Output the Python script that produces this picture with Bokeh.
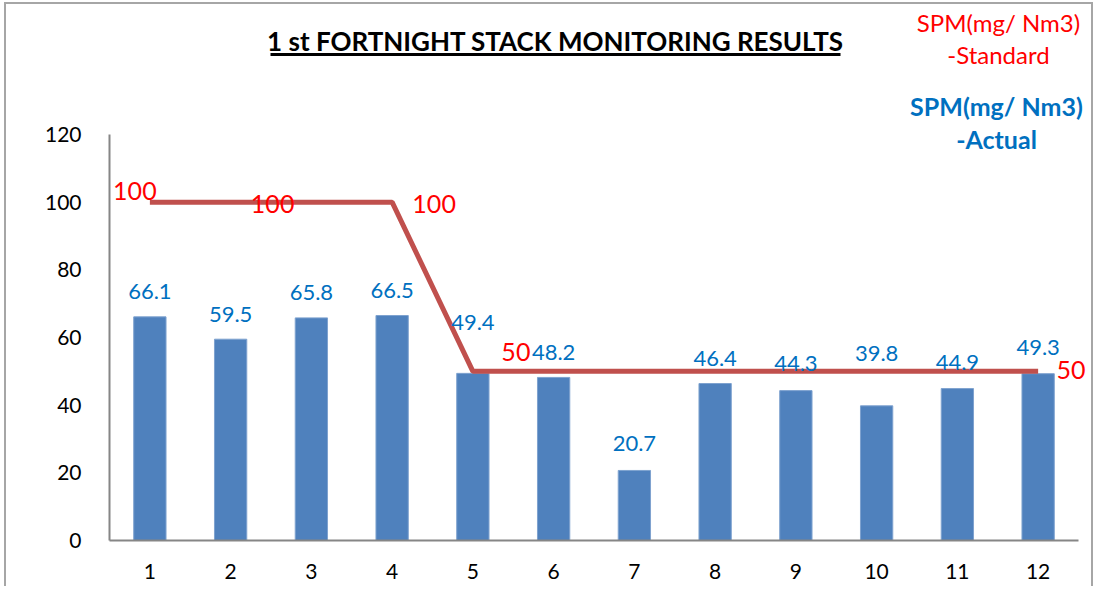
from bokeh.plotting import figure
from bokeh.models import ColumnDataSource, FixedTicker, Range1d
from bokeh.core.properties import value
from bokeh.embed import file_html
from bokeh.resources import INLINE

# ---- data ----
points = [1, 2, 3, 4, 5, 6, 7, 8, 9, 10, 11, 12]
actual = [66.1, 59.5, 65.8, 66.5, 49.4, 48.2, 20.7, 46.4, 44.3, 39.8, 44.9, 49.3]
standard = [100, 100, 100, 100, 50, 50, 50, 50, 50, 50, 50, 50]
y_ticks = [0, 20, 40, 60, 80, 100, 120]
title_text = "1 st FORTNIGHT STACK MONITORING RESULTS"
std_name = ["SPM(mg/ Nm3)", "-Standard"]
act_name = ["SPM(mg/ Nm3)", "-Actual"]
# label placement (style): pixel offsets of the value labels
actual_label_dy = [-25, -25, -25, -25, -51, -25, -27, -25, -27, -52, -26, -26]
std_label_idx = [0, 1, 3, 4, 11]
std_label_dx = [-15, 42, 42, 43, 33]
std_label_dy = [-11, 2, 2, -19, -1]

FONT = "Lato"
BLUE = "#4F81BD"
LBLUE = "#0070C0"
RED_LINE = "#C0504D"
RED = "#FF0000"

CANVAS_X, CANVAS_Y = 6, 4          # where the canvas starts on the page
FRAME_LEFT_PX, FRAME_BOTTOM_PX = 109, 540
W = 1089
LEFT = FRAME_LEFT_PX - CANVAS_X
BOTTOM = 48
H = FRAME_BOTTOM_PX - CANVAS_Y + BOTTOM
frame_w = W - LEFT
frame_h = H - BOTTOM
px_per_x = 80.75
px_per_y = 406 / 120.0
x0 = 0.5
x1 = x0 + frame_w / px_per_x
y1 = frame_h / px_per_y

p = figure(width=W, height=H, output_backend="svg", toolbar_location=None,
           x_range=Range1d(x0, x1), y_range=Range1d(0, y1),
           min_border_left=LEFT, min_border_bottom=BOTTOM, min_border_right=0,
           min_border_top=0)
p.styles = {"margin-left": "4px", "margin-top": "2px",
            "border-left": "2px solid #A6A6A6", "border-top": "2px solid #A6A6A6",
            "border-right": "2px solid #A6A6A6"}
p.outline_line_color = None
p.grid.visible = False
p.background_fill_color = "white"
p.border_fill_color = "white"

src = ColumnDataSource(dict(x=points, actual=actual, standard=standard,
                            alab=[f"{v:.1f}" for v in actual],
                            ady=actual_label_dy))
p.vbar(x="x", top="actual", width=0.4, bottom=0, source=src,
       fill_color=BLUE, line_color="#7EA2CF", line_width=1)
p.line(x="x", y="standard", source=src, line_color=RED_LINE, line_width=5)

p.text(x="x", y="actual", text="alab", source=src, text_color=LBLUE,
       text_font=value(FONT), text_font_size="22px", text_align="center",
       text_baseline="middle", y_offset="ady")

lsrc = ColumnDataSource(dict(
    x=[points[i] for i in std_label_idx],
    y=[standard[i] for i in std_label_idx],
    t=[str(standard[i]) for i in std_label_idx],
    dx=std_label_dx, dy=std_label_dy))
p.text(x="x", y="y", text="t", x_offset="dx", y_offset="dy", source=lsrc,
       text_color=RED, text_font=value(FONT), text_font_size="25px",
       text_align="center", text_baseline="middle")

# axes
p.xaxis.ticker = FixedTicker(ticks=points)
p.yaxis.ticker = FixedTicker(ticks=y_ticks)
p.xaxis.bounds = (0.5, 12.5)
p.yaxis.bounds = (0, 120)
for ax in (p.xaxis[0], p.yaxis[0]):
    ax.axis_line_color = "#868686"
    ax.axis_line_width = 2
    ax.major_tick_line_color = None
    ax.minor_tick_line_color = None
    ax.major_label_text_font = FONT
    ax.major_label_text_font_size = "21px"
    ax.major_label_text_color = "black"
p.yaxis.major_label_standoff = 22
p.xaxis.major_label_standoff = 17


def sx(px):
    return x0 + (px - FRAME_LEFT_PX) / px_per_x


def sy(py):
    return (FRAME_BOTTOM_PX - py) / px_per_y


# title + underline
p.text(x=[sx(555)], y=[sy(40)], text=[title_text], text_font=value(FONT),
       text_font_style="bold", text_font_size="26px", text_color="black",
       text_align="center", text_baseline="middle")
p.segment(x0=[sx(270)], y0=[sy(54)], x1=[sx(840)], y1=[sy(54)],
          line_color="black", line_width=3)

# series names
p.text(x=[sx(998), sx(998)], y=[sy(22), sy(54)], text=std_name,
       text_font=value(FONT), text_font_size="24px", text_color=RED,
       text_align="center", text_baseline="middle")
p.text(x=[sx(996), sx(996)], y=[sy(105), sy(138)], text=act_name,
       text_font=value(FONT), text_font_style="bold", text_font_size="25px",
       text_color=LBLUE, text_align="center", text_baseline="middle")

open("out.html", "w").write(file_html(p, INLINE))
